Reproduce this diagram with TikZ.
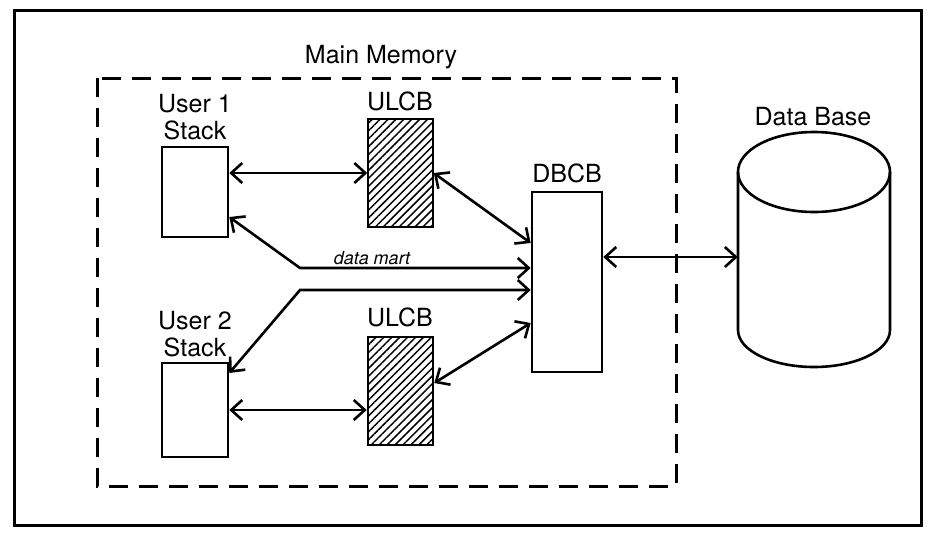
\documentclass[tikz,border=0pt]{standalone}
\usepackage{fontspec}
\setmainfont{TeX Gyre Heros}
\usetikzlibrary{arrows.meta,patterns.meta,calc}
\begin{document}
\begin{tikzpicture}[x=1pt,y=-1pt,
  box/.style={draw,line width=2.6pt,fill=white,inner sep=0pt},
  hbox/.style={box,pattern={Lines[angle=45,distance=5.6pt,line width=1.5pt]}},
  lbl/.style={font=\fontsize{25}{27}\selectfont,align=center,inner sep=0pt},
  ar/.style={line width=2.6pt,{Straight Barb[length=11pt,width=20pt,line width=2.6pt]}-{Straight Barb[length=11pt,width=20pt,line width=2.6pt]}},
  hand/.style={font=\fontsize{18}{18}\selectfont\itshape,inner sep=0pt}]
\useasboundingbox (0,0) rectangle (935,539);
\fill[white] (0,0) rectangle (935,539);
\draw[line width=3pt] (14,10) rectangle (921,525);
\draw[line width=3pt,dash pattern=on 19pt off 11pt] (97,78) rectangle (676,486);
\node[lbl] (mm) at (381,57) {Main Memory};
% boxes
\node[box,minimum width=66pt,minimum height=90pt] (u1) at (195,192) {};
\node[box,minimum width=66pt,minimum height=94pt] (u2) at (195,410) {};
\node[hbox,minimum width=65pt,minimum height=108pt] (c1) at (400.5,173) {};
\node[hbox,minimum width=65pt,minimum height=108pt] (c2) at (400.5,391) {};
\node[box,minimum width=70pt,minimum height=180pt] (dbcb) at (567,282) {};
\node[minimum width=152pt,minimum height=160pt,inner sep=0pt] (db) at (814,250) {};
% labels
\node[lbl] (lu1) at (195,117) {User 1\\Stack};
\node[lbl] (lu2) at (195,334) {User 2\\Stack};
\node[lbl] (lc1) at (400,101) {ULCB};
\node[lbl] (lc2) at (400,317) {ULCB};
\node[lbl] (ld) at (567,173) {DBCB};
\node[lbl] (ldb) at (813,117) {Data Base};
% cylinder
\draw[line width=2.6pt] (814,172) ellipse [x radius=76pt, y radius=40pt];
\draw[line width=2.6pt] (738,172) -- (738,330) arc[start angle=180,end angle=360,x radius=76pt,y radius=37pt] -- (890,172);
% connectors
\draw[ar] (u1.east |- c1.west) -- (c1.west);
\draw[ar] (u2.east) -- (u2.east -| c2.west);
\draw[ar] (c1.east) -- ($(dbcb.west)+(0,-39)$);
\draw[ar] ($(c2.east)+(0,-8)$) -- ($(dbcb.west)+(0,41)$);
\coordinate (m1) at (300,268);
\coordinate (m2) at (300,290);
\draw[ar] ($(u1.east)+(0,25)$) -- (m1) -- (m1 -| dbcb.west);
\draw[ar] (m2 -| dbcb.west) -- (m2) -- ($(u2.east)+(0,-37)$);
\node[hand] (dm) at (372,258) {data mart};
\coordinate (dbin) at ($(dbcb.east)+(0,-25)$);
\draw[ar] (dbin) -- (dbin -| db.west);
\end{tikzpicture}
\end{document}
